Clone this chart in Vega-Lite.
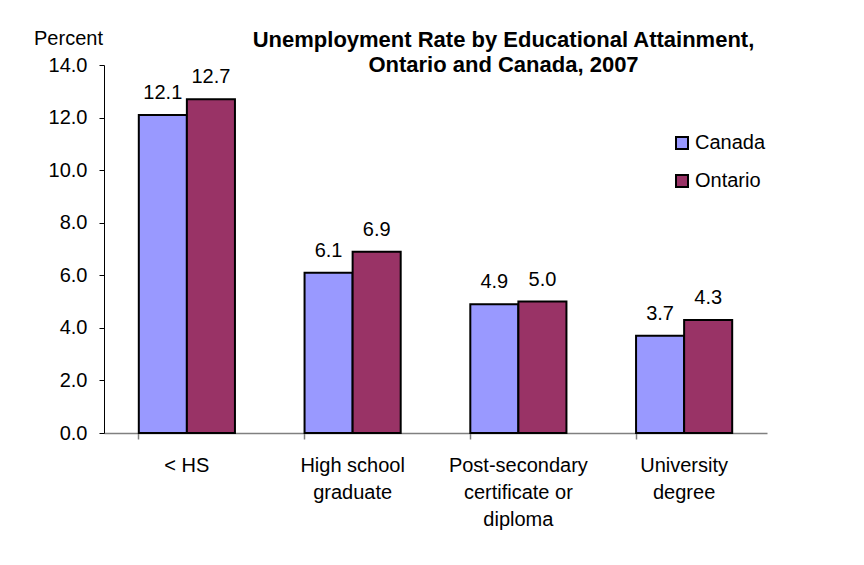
{
  "$schema": "https://vega.github.io/schema/vega-lite/v6.json",
  "autosize": {"type": "none"},
  "padding": {"left": 104, "top": 65, "right": 97, "bottom": 132},
  "width": 663,
  "height": 368,
  "background": "white",
  "config": {"view": {"stroke": null}},
  "title": {
    "text": ["Unemployment Rate by Educational Attainment,", "Ontario and Canada, 2007"],
    "font": "Liberation Sans",
    "fontSize": 22,
    "fontWeight": "bold",
    "color": "black",
    "anchor": "middle",
    "frame": "group",
    "dx": 68,
    "dy": 55,
    "offset": 6,
    "lineHeight": 25
  },
  "data": {
    "values": [
      {"category": "< HS", "region": "Canada", "value": 12.1},
      {"category": "< HS", "region": "Ontario", "value": 12.7},
      {"category": "High school|graduate", "region": "Canada", "value": 6.1},
      {"category": "High school|graduate", "region": "Ontario", "value": 6.9},
      {"category": "Post-secondary|certificate or|diploma", "region": "Canada", "value": 4.9},
      {"category": "Post-secondary|certificate or|diploma", "region": "Ontario", "value": 5.0},
      {"category": "University|degree", "region": "Canada", "value": 3.7},
      {"category": "University|degree", "region": "Ontario", "value": 4.3}
    ]
  },
  "encoding": {
    "x": {
      "field": "category",
      "type": "nominal",
      "sort": null,
      "scale": {"paddingInner": 0.42, "paddingOuter": 0.21},
      "axis": {
        "title": null,
        "labelAngle": 0,
        "labelExpr": "split(datum.label, '|')",
        "labelFont": "Liberation Sans",
        "labelFontSize": 20,
        "labelColor": "black",
        "labelLineHeight": 27,
        "labelBaseline": "top",
        "labelPadding": 16,
        "domainColor": "#808080",
        "domainWidth": 1.5,
        "tickColor": "#808080",
        "tickWidth": 1.5,
        "tickSize": 6,
        "bandPosition": 0
      }
    },
    "xOffset": {"field": "region", "type": "nominal", "sort": ["Canada", "Ontario"]},
    "y": {
      "field": "value",
      "type": "quantitative",
      "scale": {"domain": [0, 14], "nice": false},
      "axis": {
        "values": [0, 2, 4, 6, 8, 10, 12, 14],
        "format": ".1f",
        "grid": false,
        "labelFont": "Liberation Sans",
        "labelFontSize": 20,
        "labelColor": "black",
        "labelPadding": 12,
        "domainColor": "black",
        "tickColor": "black",
        "tickSize": 5,
        "title": "Percent",
        "titleFont": "Liberation Sans",
        "titleFontSize": 20,
        "titleFontWeight": "normal",
        "titleColor": "black",
        "titleAngle": 0,
        "titleAlign": "center",
        "titleBaseline": "middle",
        "titleX": -36,
        "titleY": -27
      }
    }
  },
  "layer": [
    {
      "mark": {"type": "bar", "stroke": "black", "strokeWidth": 2},
      "encoding": {
        "color": {
          "field": "region",
          "type": "nominal",
          "scale": {"domain": ["Canada", "Ontario"], "range": ["#9999FF", "#993366"]},
          "legend": {
            "title": null,
            "orient": "none",
            "legendX": 568,
            "legendY": 68,
            "symbolType": "square",
            "symbolSize": 144,
            "symbolStrokeColor": "black",
            "symbolStrokeWidth": 2,
            "symbolOpacity": 1,
            "labelFont": "Liberation Sans",
            "labelFontSize": 20,
            "labelColor": "black",
            "labelOffset": 3,
            "rowPadding": 18
          }
        }
      }
    },
    {
      "mark": {"type": "text", "baseline": "alphabetic", "dy": -16, "font": "Liberation Sans", "fontSize": 20, "color": "black"},
      "encoding": {
        "text": {"field": "value", "type": "quantitative", "format": ".1f"}
      }
    }
  ]
}
